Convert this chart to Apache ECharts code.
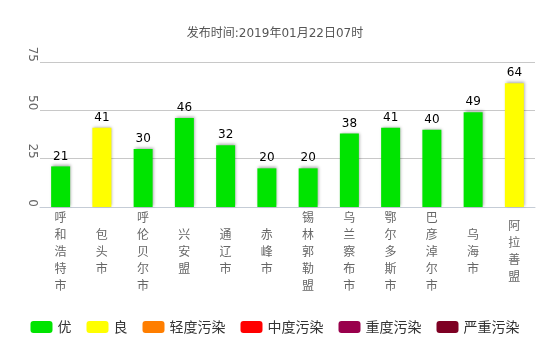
<!DOCTYPE html>
<html><head><meta charset="utf-8">
<script src="https://cdn.jsdelivr.net/npm/echarts@6/dist/echarts.min.js"></script>
<style>html,body{margin:0;padding:0;background:#fff}#c{width:550px;height:346px}</style>
</head><body><div id="c"></div>
<script>
var titleText = '发布时间:2019年01月22日07时';
var cities = ['呼和浩特市','包头市','呼伦贝尔市','兴安盟','通辽市','赤峰市','锡林郭勒盟','乌兰察布市','鄂尔多斯市','巴彦淖尔市','乌海市','阿拉善盟'];
var aqiValues = [21,41,30,46,32,20,20,38,41,40,49,64];
var cityLevels = ['优','良','优','优','优','优','优','优','优','优','优','良'];
var levelNames = ['优','良','轻度污染','中度污染','重度污染','严重污染'];
var levelColors = ['#00e400','#ffff00','#ff7e00','#ff0000','#99004c','#7e0023'];
var yTicks = [0,25,50,75];

var colorOf = {};
levelNames.forEach(function(n,i){colorOf[n]=levelColors[i];});
var FONT = 'DejaVu Sans, Noto Sans CJK SC';

var series = [{
  name:'AQI', type:'bar', barWidth:19,
  data: aqiValues.map(function(v,i){return {value:v,itemStyle:{color:colorOf[cityLevels[i]]}};}),
  itemStyle:{shadowColor:'rgba(0,0,0,0.35)',shadowBlur:3,shadowOffsetX:1,shadowOffsetY:-1},
  label:{show:true,position:'top',distance:4,color:'#000',fontSize:12,fontFamily:FONT}
}];
levelNames.forEach(function(n,i){
  series.push({name:n,type:'line',data:[],itemStyle:{color:levelColors[i]},lineStyle:{color:levelColors[i]}});
});

var chart = echarts.init(document.getElementById('c'));
chart.setOption({
  animation:false,
  textStyle:{fontFamily:'Noto Sans CJK SC'},
  title:{text:titleText,left:'center',top:23,textStyle:{fontSize:12,fontWeight:'normal',color:'#555',fontFamily:FONT}},
  grid:{left:40,right:15,top:62,bottom:139},
  legend:{bottom:7,left:'center',itemWidth:22,itemHeight:12,itemGap:15,icon:'roundRect',
    data:levelNames.map(function(n){return {name:n,icon:'roundRect'};}),
    textStyle:{fontSize:14,color:'#333'}},
  xAxis:{type:'category',data:cities,
    axisLine:{lineStyle:{color:'#c5ccd6'}},
    axisTick:{lineStyle:{color:'#c5ccd6'},length:5},
    axisLabel:{interval:0,color:'#666',fontSize:12,lineHeight:17,verticalAlign:'middle',margin:44,
      formatter:function(v){return v.split('').join('\n');}}},
  yAxis:{type:'value',min:0,max:75,interval:25,
    axisLine:{show:false},axisTick:{show:false},
    splitLine:{lineStyle:{color:'#c8c8c8'}},
    axisLabel:{rotate:-90,align:'right',verticalAlign:'middle',color:'#666',fontSize:12,margin:8,fontFamily:FONT,
      formatter:function(v){return yTicks.indexOf(v)>=0?String(v):'';}}},
  series:series
});
</script></body></html>
